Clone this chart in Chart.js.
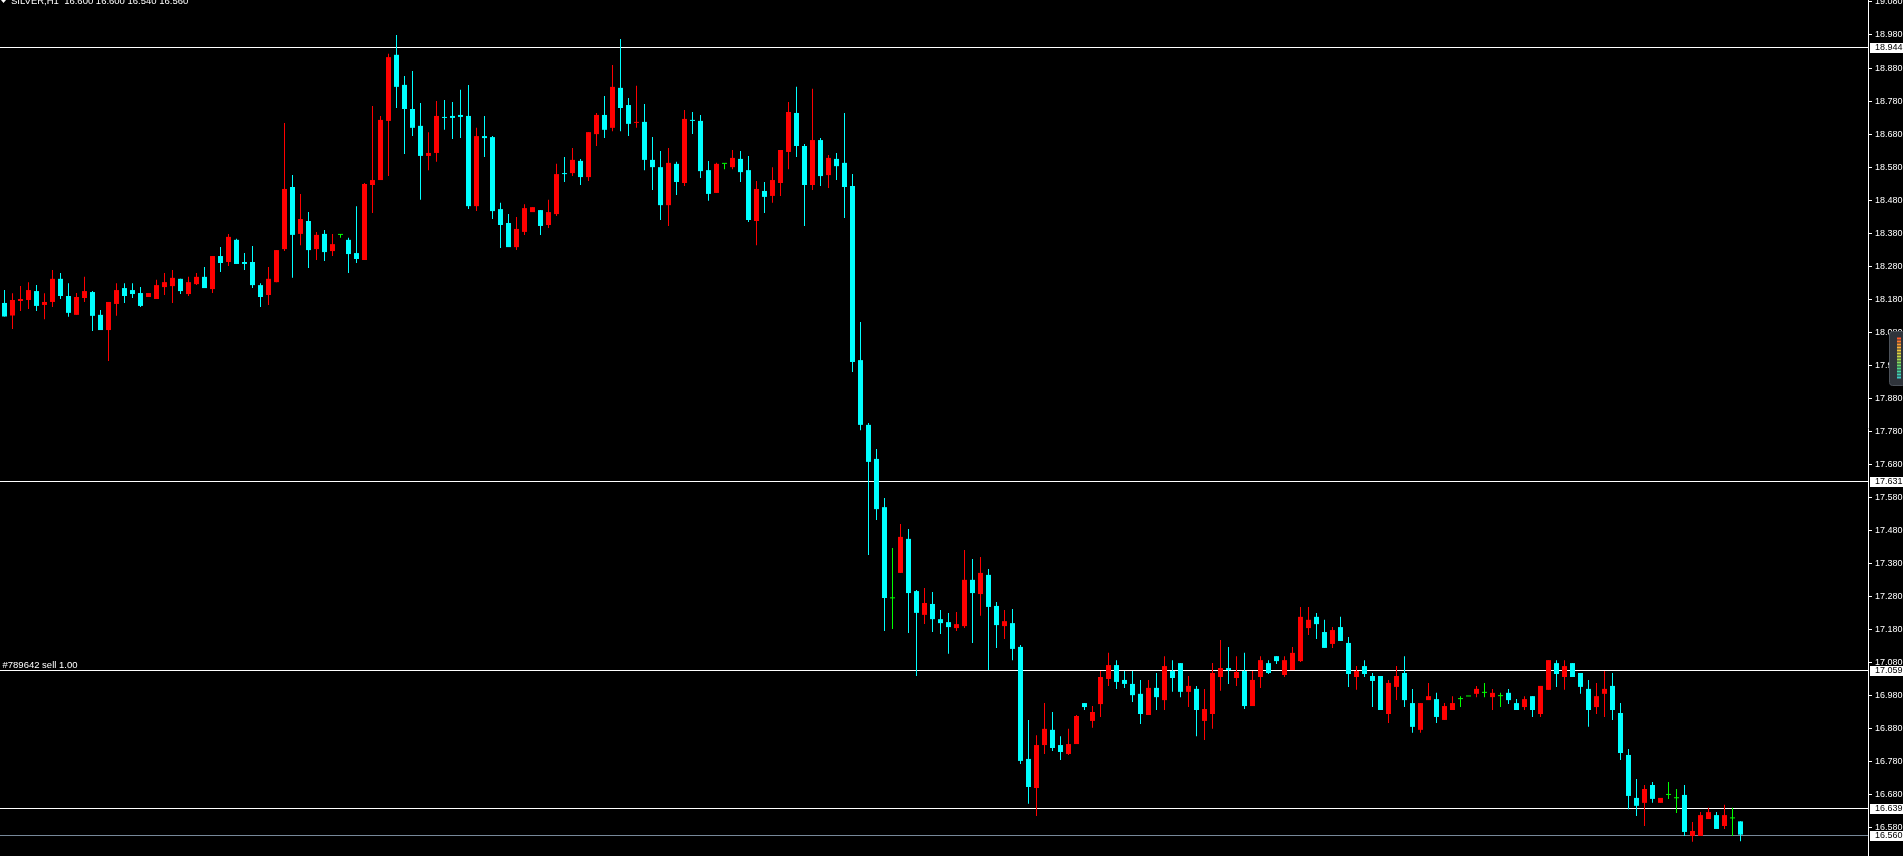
<!DOCTYPE html>
<html>
<head>
<meta charset="utf-8">
<title>SILVER,H1</title>
<script src="https://cdn.jsdelivr.net/npm/chart.js@4.4.1/dist/chart.umd.min.js"></script>
<style>
  html, body { margin: 0; padding: 0; background: #000; overflow: hidden; }
  #wrap { position: relative; width: 1903px; height: 856px; }
</style>
</head>
<body>
<div id="wrap"><canvas id="chart"></canvas></div>
<script>
// SILVER H1 bars (oldest first)
const opens = [
  18.169, 18.131, 18.175, 18.178, 18.205, 18.163, 18.172, 18.242, 18.190, 18.133,
  18.184, 18.202, 18.133, 18.087, 18.166, 18.214, 18.208, 18.199, 18.187, 18.181,
  18.217, 18.220, 18.242, 18.196, 18.226, 18.248, 18.211, 18.311, 18.293, 18.360,
  18.293, 18.293, 18.223, 18.193, 18.232, 18.332, 18.520, 18.378, 18.417, 18.332,
  18.378, 18.326, 18.375, 18.360, 18.320, 18.299, 18.526, 18.541, 18.720, 18.920,
  18.829, 18.756, 18.705, 18.614, 18.623, 18.732, 18.735, 18.738, 18.735, 18.462,
  18.674, 18.671, 18.453, 18.411, 18.338, 18.384, 18.444, 18.450, 18.405, 18.438,
  18.562, 18.562, 18.599, 18.550, 18.680, 18.738, 18.699, 18.820, 18.768, 18.714,
  18.717, 18.602, 18.580, 18.465, 18.590, 18.532, 18.723, 18.720, 18.571, 18.502,
  18.590, 18.580, 18.605, 18.571, 18.417, 18.508, 18.493, 18.532, 18.626, 18.744,
  18.644, 18.526, 18.662, 18.556, 18.605, 18.593, 18.523, 17.996, 17.800, 17.697,
  17.551, 17.275, 17.352, 17.455, 17.297, 17.225, 17.258, 17.212, 17.203, 17.185,
  17.191, 17.331, 17.288, 17.346, 17.252, 17.191, 17.200, 17.128, 16.789, 16.701,
  16.831, 16.877, 16.831, 16.804, 16.834, 16.958, 16.904, 16.955, 17.031, 17.073,
  17.028, 17.016, 16.986, 16.922, 17.004, 16.967, 17.055, 17.079, 16.992, 17.001,
  16.904, 16.925, 17.037, 17.064, 17.034, 17.055, 16.949, 17.037, 17.079, 17.100,
  17.043, 17.058, 17.085, 17.185, 17.219, 17.173, 17.137, 17.188, 17.140, 17.037,
  17.070, 17.040, 17.040, 16.925, 17.007, 17.049, 16.958, 16.877, 16.967, 16.970,
  16.907, 16.937, 16.970, 16.978, 16.986, 16.989, 16.976, 16.979, 16.989, 16.958,
  16.946, 16.979, 16.925, 16.998, 17.079, 17.037, 17.079, 17.049, 17.001, 16.946,
  16.986, 17.010, 16.928, 16.801, 16.671, 16.656, 16.710, 16.656, 16.680, 16.670,
  16.680, 16.556, 16.556, 16.607, 16.619, 16.586, 16.609, 16.600
];
const highs = [
  18.208, 18.198, 18.220, 18.232, 18.223, 18.198, 18.269, 18.260, 18.229, 18.199,
  18.248, 18.205, 18.148, 18.172, 18.229, 18.229, 18.229, 18.217, 18.199, 18.239,
  18.260, 18.269, 18.242, 18.248, 18.260, 18.278, 18.311, 18.338, 18.378, 18.363,
  18.320, 18.341, 18.229, 18.278, 18.329, 18.714, 18.556, 18.499, 18.444, 18.384,
  18.390, 18.378, 18.378, 18.366, 18.462, 18.532, 18.765, 18.735, 18.923, 18.980,
  18.856, 18.871, 18.774, 18.686, 18.780, 18.783, 18.777, 18.814, 18.829, 18.699,
  18.735, 18.674, 18.472, 18.438, 18.429, 18.468, 18.459, 18.450, 18.481, 18.590,
  18.611, 18.638, 18.605, 18.686, 18.744, 18.795, 18.889, 18.968, 18.789, 18.826,
  18.771, 18.671, 18.629, 18.638, 18.596, 18.753, 18.747, 18.738, 18.599, 18.593,
  18.590, 18.632, 18.629, 18.614, 18.538, 18.535, 18.580, 18.632, 18.777, 18.823,
  18.650, 18.817, 18.668, 18.617, 18.623, 18.744, 18.559, 18.111, 17.806, 17.727,
  17.579, 17.427, 17.500, 17.485, 17.300, 17.306, 17.294, 17.240, 17.231, 17.234,
  17.421, 17.394, 17.400, 17.364, 17.264, 17.240, 17.243, 17.134, 16.907, 16.861,
  16.958, 16.931, 16.858, 16.880, 16.922, 16.958, 16.949, 17.055, 17.110, 17.088,
  17.055, 17.055, 17.028, 17.028, 17.049, 17.100, 17.088, 17.079, 17.040, 17.010,
  17.001, 17.079, 17.149, 17.128, 17.100, 17.110, 17.055, 17.100, 17.088, 17.100,
  17.100, 17.128, 17.249, 17.249, 17.231, 17.210, 17.188, 17.219, 17.158, 17.070,
  17.088, 17.049, 17.040, 17.028, 17.070, 17.100, 17.001, 16.958, 17.019, 16.989,
  16.958, 16.979, 16.979, 16.978, 17.010, 17.019, 17.001, 16.989, 17.001, 16.970,
  16.979, 16.979, 17.010, 17.088, 17.088, 17.088, 17.079, 17.049, 17.028, 17.019,
  17.055, 17.049, 16.958, 16.819, 16.728, 16.710, 16.719, 16.671, 16.719, 16.698,
  16.710, 16.598, 16.628, 16.641, 16.628, 16.650, 16.641, 16.600
];
const lows = [
  18.128, 18.090, 18.145, 18.151, 18.145, 18.120, 18.157, 18.181, 18.127, 18.133,
  18.172, 18.084, 18.087, 17.993, 18.130, 18.169, 18.184, 18.157, 18.187, 18.181,
  18.193, 18.169, 18.196, 18.190, 18.223, 18.214, 18.199, 18.263, 18.281, 18.287,
  18.269, 18.214, 18.157, 18.163, 18.232, 18.326, 18.245, 18.344, 18.275, 18.299,
  18.296, 18.311, 18.366, 18.260, 18.290, 18.299, 18.441, 18.541, 18.553, 18.759,
  18.620, 18.674, 18.481, 18.571, 18.596, 18.693, 18.665, 18.668, 18.453, 18.447,
  18.611, 18.423, 18.335, 18.338, 18.329, 18.375, 18.444, 18.375, 18.396, 18.432,
  18.535, 18.553, 18.526, 18.538, 18.644, 18.668, 18.689, 18.689, 18.674, 18.699,
  18.571, 18.511, 18.420, 18.402, 18.496, 18.523, 18.680, 18.547, 18.478, 18.502,
  18.574, 18.574, 18.535, 18.414, 18.344, 18.441, 18.472, 18.493, 18.574, 18.611,
  18.402, 18.511, 18.523, 18.517, 18.541, 18.426, 17.960, 17.784, 17.406, 17.512,
  17.176, 17.182, 17.352, 17.170, 17.040, 17.197, 17.173, 17.167, 17.107, 17.176,
  17.185, 17.140, 17.222, 17.058, 17.125, 17.152, 17.088, 16.774, 16.653, 16.616,
  16.804, 16.813, 16.786, 16.801, 16.834, 16.937, 16.883, 16.916, 17.010, 17.001,
  17.004, 16.961, 16.895, 16.922, 16.937, 16.937, 16.992, 16.976, 16.946, 16.858,
  16.846, 16.880, 16.995, 17.016, 17.010, 16.940, 16.949, 17.004, 17.046, 17.076,
  17.037, 17.058, 17.082, 17.164, 17.152, 17.125, 17.125, 17.146, 17.007, 16.998,
  17.037, 16.946, 16.937, 16.898, 16.967, 16.946, 16.868, 16.868, 16.967, 16.898,
  16.907, 16.937, 16.946, 16.978, 16.976, 16.976, 16.937, 16.946, 16.955, 16.937,
  16.937, 16.916, 16.916, 16.998, 17.007, 16.998, 17.037, 16.986, 16.886, 16.925,
  16.916, 16.907, 16.786, 16.637, 16.616, 16.586, 16.656, 16.656, 16.668, 16.625,
  16.556, 16.538, 16.556, 16.607, 16.577, 16.577, 16.556, 16.540
];
const closes = [
  18.128, 18.178, 18.181, 18.208, 18.160, 18.172, 18.242, 18.190, 18.139, 18.187,
  18.205, 18.130, 18.087, 18.172, 18.208, 18.190, 18.196, 18.160, 18.199, 18.223,
  18.232, 18.245, 18.205, 18.232, 18.248, 18.214, 18.311, 18.290, 18.369, 18.287,
  18.287, 18.223, 18.187, 18.242, 18.329, 18.514, 18.375, 18.423, 18.329, 18.375,
  18.323, 18.347, 18.375, 18.317, 18.302, 18.529, 18.541, 18.723, 18.913, 18.823,
  18.756, 18.699, 18.614, 18.623, 18.735, 18.729, 18.729, 18.732, 18.462, 18.674,
  18.668, 18.447, 18.405, 18.338, 18.393, 18.456, 18.459, 18.402, 18.444, 18.559,
  18.559, 18.602, 18.550, 18.686, 18.738, 18.693, 18.823, 18.759, 18.711, 18.717,
  18.602, 18.580, 18.465, 18.593, 18.535, 18.726, 18.720, 18.568, 18.499, 18.590,
  18.590, 18.608, 18.565, 18.420, 18.514, 18.490, 18.541, 18.632, 18.747, 18.644,
  18.526, 18.662, 18.553, 18.608, 18.583, 18.520, 17.990, 17.800, 17.688, 17.545,
  17.276, 17.275, 17.461, 17.291, 17.231, 17.261, 17.212, 17.200, 17.188, 17.197,
  17.331, 17.291, 17.352, 17.249, 17.194, 17.206, 17.122, 16.783, 16.704, 16.831,
  16.880, 16.822, 16.810, 16.834, 16.919, 16.946, 16.931, 17.037, 17.073, 17.022,
  17.016, 16.982, 16.925, 17.004, 16.976, 17.070, 17.034, 16.992, 17.010, 16.937,
  16.940, 17.049, 17.064, 17.058, 17.052, 16.949, 17.028, 17.088, 17.049, 17.085,
  17.088, 17.110, 17.219, 17.210, 17.197, 17.125, 17.179, 17.146, 17.046, 17.055,
  17.046, 17.025, 16.937, 17.019, 17.040, 16.967, 16.886, 16.958, 16.979, 16.916,
  16.949, 16.958, 16.970, 16.978, 17.001, 16.989, 16.989, 16.979, 16.967, 16.937,
  16.970, 16.937, 17.010, 17.088, 17.046, 17.070, 17.037, 17.007, 16.937, 16.979,
  17.001, 16.937, 16.807, 16.677, 16.647, 16.698, 16.668, 16.671, 16.680, 16.670,
  16.568, 16.571, 16.619, 16.628, 16.577, 16.619, 16.609, 16.560
];

// right price scale labels
const tickLabels = [
  19.080, 18.980, 18.880, 18.780, 18.680, 18.580, 18.480, 18.380, 18.280, 18.180,
  18.080, 17.980, 17.880, 17.780, 17.680, 17.580, 17.480, 17.380, 17.280, 17.180,
  17.080, 16.980, 16.880, 16.780, 16.680, 16.580
];

// horizontal lines (levels + order line) and the bid line
const levels = [18.944, 17.631, 17.059, 16.639];
const bid = 16.560;
const orderLabel = "#789642 sell 1.00";
const orderLevel = 17.059;
const symbol = "SILVER,H1";

const BULL = "#ff0000";
const BEAR = "#00ffff";
const DOJI = "#00ff00";
const FONT = '"Liberation Sans", Arial, sans-serif';

const candleColors = opens.map((o, i) =>
  closes[i] > o ? BULL : closes[i] < o ? BEAR : DOJI
);
const wicks = opens.map((o, i) => ({ x: i, y: [lows[i], highs[i]] }));
const bodies = opens.map((o, i) => ({
  x: i,
  y: [Math.min(o, closes[i]), Math.max(o, closes[i])],
}));

const BAR_PX = 8;      // MT4 zoom step
const AXIS_W = 35;     // width of the price scale

const fmt = (v) => v.toFixed(3);

// black background
const bgPlugin = {
  id: "bg",
  beforeDraw(chart) {
    const { ctx, width, height } = chart;
    ctx.save();
    ctx.fillStyle = "#000";
    ctx.fillRect(0, 0, width, height);
    ctx.restore();
  },
};

// level lines behind the candles
const linesPlugin = {
  id: "lines",
  beforeDatasetsDraw(chart) {
    const { ctx, chartArea } = chart;
    const ys = chart.scales.y;
    ctx.save();
    ctx.lineWidth = 1;
    levels.forEach((v) => {
      const y = Math.round(ys.getPixelForValue(v)) + 0.5;
      ctx.strokeStyle = "#ffffff";
      ctx.beginPath();
      ctx.moveTo(chartArea.left, y);
      ctx.lineTo(chartArea.right, y);
      ctx.stroke();
    });
    const yb = Math.round(ys.getPixelForValue(bid)) + 0.5;
    ctx.strokeStyle = "#778899";
    ctx.beginPath();
    ctx.moveTo(chartArea.left, yb);
    ctx.lineTo(chartArea.right, yb);
    ctx.stroke();

    // order comment above its line
    ctx.fillStyle = "#ffffff";
    ctx.font = "9.5px " + FONT;
    ctx.textBaseline = "alphabetic";
    ctx.textAlign = "left";
    ctx.fillText(orderLabel, 2.5, Math.round(ys.getPixelForValue(orderLevel)) - 2);
    ctx.restore();
  },
};

// price tags on the axis, header text, and the small gauge widget
const overlayPlugin = {
  id: "overlay",
  afterDraw(chart) {
    const { ctx, chartArea } = chart;
    const ys = chart.scales.y;
    ctx.save();
    ctx.font = "9px " + FONT;
    ctx.textBaseline = "middle";
    ctx.textAlign = "left";
    levels.concat([bid]).forEach((v) => {
      const y = Math.round(ys.getPixelForValue(v));
      ctx.fillStyle = "#ffffff";
      ctx.fillRect(chartArea.right + 2, y - 4, 40, 10);
      ctx.fillStyle = "#000000";
      ctx.fillText(fmt(v), chartArea.right + 7, y + 1);
    });

    // header (clipped at the top edge like the terminal)
    ctx.fillStyle = "#ffffff";
    ctx.beginPath();
    ctx.moveTo(1, 0);
    ctx.lineTo(6, 0);
    ctx.lineTo(3.5, 3);
    ctx.closePath();
    ctx.fill();
    const n = opens.length - 1;
    const head = symbol + "  " + [opens[n], highs[n], lows[n], closes[n]].map(fmt).join(" ");
    ctx.font = "9.5px " + FONT;
    ctx.textBaseline = "alphabetic";
    ctx.fillText(head, 11, 4);

    // little gauge on the price scale
    const gx = chartArea.right + 21.5, gy = 331.5;
    ctx.fillStyle = "#2f343b";
    ctx.strokeStyle = "#4c525a";
    ctx.beginPath();
    ctx.roundRect(gx, gy, 16, 54, 3);
    ctx.fill();
    ctx.stroke();
    const gauge = ["#ff5a2a", "#ff7a2a", "#ff9a30", "#ffb436", "#f0c83a", "#e0d23e",
      "#c8d846", "#a8dc50", "#88dc5e", "#68da70", "#50d888", "#44d4a0", "#40d0b4", "#3ccac4"];
    gauge.forEach((c, k) => {
      ctx.fillStyle = c;
      ctx.fillRect(gx + 7.5, gy + 6 + k * 3, 4, 2);
    });
    ctx.restore();
  },
};

new Chart(document.getElementById("chart"), {
  type: "bar",
  data: {
    datasets: [
      {
        label: "wick",
        data: wicks,
        backgroundColor: candleColors,
        barThickness: 1,
        inflateAmount: 0,
        grouped: false,
        order: 2,
      },
      {
        label: "body",
        data: bodies,
        backgroundColor: candleColors,
        barThickness: 5,
        minBarLength: 1,
        inflateAmount: 0,
        grouped: false,
        order: 1,
      },
    ],
  },
  options: {
    responsive: true,
    maintainAspectRatio: false,
    animation: false,
    devicePixelRatio: 1,
    layout: { padding: 0 },
    plugins: { legend: { display: false }, tooltip: { enabled: false } },
    scales: {
      x: {
        type: "linear",
        display: false,
        offset: false,
        min: -0.5625,
        max: -0.5625 + (1903 - AXIS_W) / BAR_PX,
      },
      y: {
        position: "right",
        min: 16.4952,
        max: 19.0859,
        afterBuildTicks: (s) => {
          s.ticks = tickLabels.map((v) => ({ value: v }));
        },
        afterFit: (s) => {
          s.width = AXIS_W;
          s.paddingTop = 0;
          s.paddingBottom = 0;
        },
        ticks: {
          color: "#ffffff",
          font: { family: FONT, size: 9 },
          padding: 3,
          autoSkip: false,
          callback: (v) => fmt(v),
        },
        grid: { drawOnChartArea: false, drawTicks: true, tickLength: 4, color: "#ffffff" },
        border: { display: true, color: "#ffffff", width: 1 },
      },
    },
  },
  plugins: [bgPlugin, linesPlugin, overlayPlugin],
});
</script>
</body>
</html>
